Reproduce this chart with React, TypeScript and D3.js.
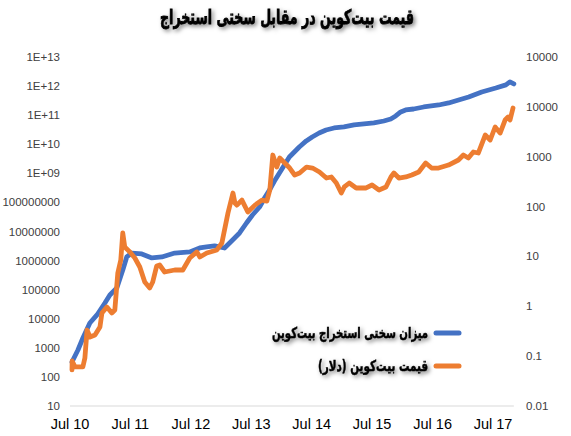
import React from "react";
import * as d3 from "d3";

const W = 571;
const H = 436;

const chartTitle = "قیمت بیت‌کوین در مقابل سختی استخراج";
const seriesNames = ["میزان سختی استخراج بیت‌کوین", "قیمت بیت‌کوین (دلار)"];
const seriesColors = ["#4472C4", "#ED7D31"];

const difficultyDates = [
  "2010-07-13", "2010-08-18", "2010-09-17", "2010-10-29", "2010-12-11", "2011-01-28",
  "2011-02-27", "2011-04-10", "2011-05-16", "2011-06-09", "2011-07-09", "2011-09-08",
  "2011-11-08", "2012-01-07", "2012-03-25", "2012-06-24", "2012-08-23", "2012-10-04",
  "2012-11-21", "2012-12-21", "2013-01-20", "2013-03-10", "2013-04-21", "2013-06-02",
  "2013-07-08", "2013-08-20", "2013-09-19", "2013-10-19", "2013-11-18", "2013-12-18",
  "2014-01-17", "2014-02-16", "2014-03-18", "2014-04-17", "2014-05-29", "2014-07-04",
  "2014-08-15", "2014-09-26", "2014-11-13", "2015-01-12", "2015-03-14", "2015-05-13",
  "2015-07-12", "2015-09-10", "2015-10-22", "2015-11-21", "2015-12-21", "2016-01-20",
  "2016-03-08", "2016-05-08", "2016-08-07", "2016-10-06", "2016-12-05", "2017-02-04",
  "2017-04-24", "2017-07-18", "2017-09-17", "2017-10-11", "2017-11-04",
];
const difficultyValues = [
  326, 843, 2180, 7150, 13500, 34800,
  65600, 114000, 475000, 1.33e6, 1.82e6, 1.69e6,
  1.23e6, 1.33e6, 1.82e6, 1.98e6, 2.71e6, 2.94e6,
  3.18e6, 2.94e6, 2.71e6, 5.1e6, 8.9e6, 1.96e7,
  3.7e7, 6.97e7, 1.42e8, 2.68e8, 5.46e8, 1.03e9,
  1.94e9, 3.66e9, 5.43e9, 8.07e9, 1.3e10, 1.78e10,
  2.44e10, 3.1e10, 3.63e10, 3.93e10, 4.6e10, 4.98e10,
  5.39e10, 6.3e10, 7.4e10, 9.4e10, 1.29e11, 1.51e11,
  1.63e11, 1.91e11, 2.24e11, 2.63e11, 3.34e11, 4.23e11,
  6.28e11, 8.6e11, 1.1e12, 1.39e12, 1.18e12,
];

const priceDates = [
  "2010-07-13", "2010-07-14", "2010-07-31", "2010-09-17", "2010-09-29", "2010-10-12",
  "2010-10-30", "2010-11-29", "2010-12-29", "2011-01-10", "2011-02-09", "2011-03-11",
  "2011-03-29", "2011-04-16", "2011-05-04", "2011-05-16", "2011-05-28", "2011-06-28",
  "2011-07-28", "2011-08-27", "2011-09-26", "2011-10-26", "2011-11-13", "2011-12-07",
  "2011-12-25", "2012-01-24", "2012-03-25", "2012-05-13", "2012-06-24", "2012-08-06",
  "2012-08-24", "2012-10-05", "2012-12-05", "2013-01-04", "2013-02-10", "2013-03-12",
  "2013-03-24", "2013-04-05", "2013-05-05", "2013-06-10", "2013-07-23", "2013-09-03",
  "2013-10-03", "2013-10-21", "2013-11-08", "2013-12-02", "2013-12-20", "2014-01-19",
  "2014-02-18", "2014-03-20", "2014-04-19", "2014-05-31", "2014-07-06", "2014-08-17",
  "2014-09-28", "2014-10-28", "2014-11-27", "2014-12-27", "2015-01-14", "2015-02-13",
  "2015-03-27", "2015-05-26", "2015-07-01", "2015-08-12", "2015-09-23", "2015-10-23",
  "2015-11-10", "2015-12-10", "2016-01-21", "2016-02-26", "2016-04-08", "2016-05-20",
  "2016-06-25", "2016-08-06", "2016-10-05", "2016-12-04", "2017-01-03", "2017-02-02",
  "2017-03-04", "2017-04-03", "2017-05-15", "2017-06-14", "2017-07-14", "2017-08-13",
  "2017-09-12", "2017-09-30", "2017-10-12", "2017-10-30",
];
const priceValues = [
  0.053, 0.08, 0.061, 0.061, 0.092, 0.334,
  0.242, 0.265, 0.384, 0.733, 0.968, 0.733,
  0.841, 4.65, 8.48, 29.5, 15.4, 12.3,
  9.3, 6.14, 3.07, 2.33, 3.07, 6.43,
  6.73, 4.87, 5.34, 5.34, 9.3, 12.3,
  9.73, 11.7, 13.5, 18.6, 74.3, 187,
  118, 107, 135, 77.8, 107, 135,
  129, 215, 1081, 621, 942, 748,
  593, 430, 471, 621, 593, 493,
  374, 392, 297, 187, 247, 297,
  236, 236, 271, 215, 247, 392,
  471, 374, 392, 430, 493, 748,
  593, 593, 681, 859, 1081, 942,
  1242, 1186, 2723, 2163, 3944, 2985,
  5445, 6252, 5445, 9484,
];

const xTickDates = [
  "2010-07-01", "2011-07-01", "2012-07-01", "2013-07-01",
  "2014-07-01", "2015-07-01", "2016-07-01", "2017-07-01",
];
const xTickLabels = ["Jul 10", "Jul 11", "Jul 12", "Jul 13", "Jul 14", "Jul 15", "Jul 16", "Jul 17"];

const leftTickValues = [1e1, 1e2, 1e3, 1e4, 1e5, 1e6, 1e7, 1e8, 1e9, 1e10, 1e11, 1e12, 1e13];
const leftTickLabels = [
  "10", "100", "1000", "10000", "100000", "1000000", "10000000", "100000000",
  "1E+09", "1E+10", "1E+11", "1E+12", "1E+13",
];
const rightTickValues = [0.01, 0.1, 1, 10, 100, 1000, 10000, 100000];
const rightTickLabels = ["0.01", "0.1", "1", "10", "100", "1000", "10000", "10000"];

const parse = d3.timeParse("%Y-%m-%d");

export default function App() {
  const plotLeft = 70;
  const plotTop = 57;
  const plotBottom = 406;

  const x = d3
    .scaleTime()
    .domain([parse(xTickDates[0])!, parse(xTickDates[xTickDates.length - 1])!])
    .range([plotLeft, 493]);
  const yLeft = d3.scaleLog().domain([1e1, 1e13]).range([plotBottom, plotTop]);
  const yRight = d3.scaleLog().domain([0.01, 1e5]).range([plotBottom, plotTop]);

  const diff = difficultyDates.map((d, i) => ({ date: parse(d)!, v: difficultyValues[i] }));
  const price = priceDates.map((d, i) => ({ date: parse(d)!, v: priceValues[i] }));

  const lineDiff = d3
    .line<{ date: Date; v: number }>()
    .x((d) => x(d.date))
    .y((d) => yLeft(d.v));
  const linePrice = d3
    .line<{ date: Date; v: number }>()
    .x((d) => x(d.date))
    .y((d) => yRight(d.v));

  const axisEnd = x(parse("2017-11-04")!);
  const numFont = "'Liberation Sans', Arial, sans-serif";
  const faFont = "'DejaVu Sans', sans-serif";

  const legendCenters = [350, 373];
  const legendWidths = [156, 110];

  return (
    <svg
      width={W}
      height={H}
      style={{ position: "absolute", left: 0, top: 0, background: "#fff" }}
    >
      <defs>
        <filter id="shadow" x="-10%" y="-50%" width="120%" height="200%">
          <feDropShadow dx="2" dy="2" stdDeviation="2" floodColor="#000" floodOpacity="0.5" />
        </filter>
      </defs>
      <rect width={W} height={H} fill="#fff" />

      <text
        x={287}
        y={24}
        textAnchor="middle"
        fontFamily={faFont}
        fontWeight="bold"
        fontSize={20}
        fill="#000"
        stroke="#000"
        strokeWidth={0.8}
        filter="url(#shadow)"
        direction="rtl"
        textLength={254}
        lengthAdjust="spacingAndGlyphs"
      >
        {chartTitle}
      </text>

      {/* baseline */}
      <line x1={plotLeft} x2={axisEnd} y1={plotBottom} y2={plotBottom} stroke="#d9d9d9" strokeWidth={1} />

      {/* left axis labels */}
      {leftTickValues.map((v, i) => (
        <text
          key={"l" + i}
          x={60}
          y={yLeft(v)}
          dy="0.35em"
          textAnchor="end"
          fontFamily={numFont}
          fontSize={11.5}
          fill="#404040"
        >
          {leftTickLabels[i]}
        </text>
      ))}

      {/* right axis labels */}
      {rightTickValues.map((v, i) => (
        <text
          key={"r" + i}
          x={526}
          y={yRight(v)}
          dy="0.35em"
          textAnchor="start"
          fontFamily={numFont}
          fontSize={11.5}
          fill="#404040"
        >
          {rightTickLabels[i]}
        </text>
      ))}

      {/* x axis labels */}
      {xTickDates.map((d, i) => (
        <text
          key={"x" + i}
          x={x(parse(d)!)}
          y={429}
          textAnchor="middle"
          fontFamily={numFont}
          fontSize={14.5}
          fill="#000"
        >
          {xTickLabels[i]}
        </text>
      ))}

      <path
        d={lineDiff(diff) || ""}
        fill="none"
        stroke={seriesColors[0]}
        strokeWidth={4.8}
        strokeLinejoin="round"
        strokeLinecap="round"
      />
      <path
        d={linePrice(price) || ""}
        fill="none"
        stroke={seriesColors[1]}
        strokeWidth={4.8}
        strokeLinejoin="round"
        strokeLinecap="round"
      />

      {/* legend */}
      {seriesNames.map((name, i) => {
        const ly = 333 + i * 33;
        return (
          <g key={"lg" + i}>
            <line
              x1={436}
              x2={459}
              y1={ly}
              y2={ly}
              stroke={seriesColors[i]}
              strokeWidth={5}
              strokeLinecap="round"
            />
            <text
              x={legendCenters[i]}
              y={ly + 5}
              textAnchor="middle"
              direction="rtl"
              fontFamily={faFont}
              fontWeight="bold"
              fontSize={15}
              fill="#000"
              stroke="#000"
              strokeWidth={0.5}
              filter="url(#shadow)"
              textLength={legendWidths[i]}
              lengthAdjust="spacingAndGlyphs"
            >
              {name}
            </text>
          </g>
        );
      })}
    </svg>
  );
}
